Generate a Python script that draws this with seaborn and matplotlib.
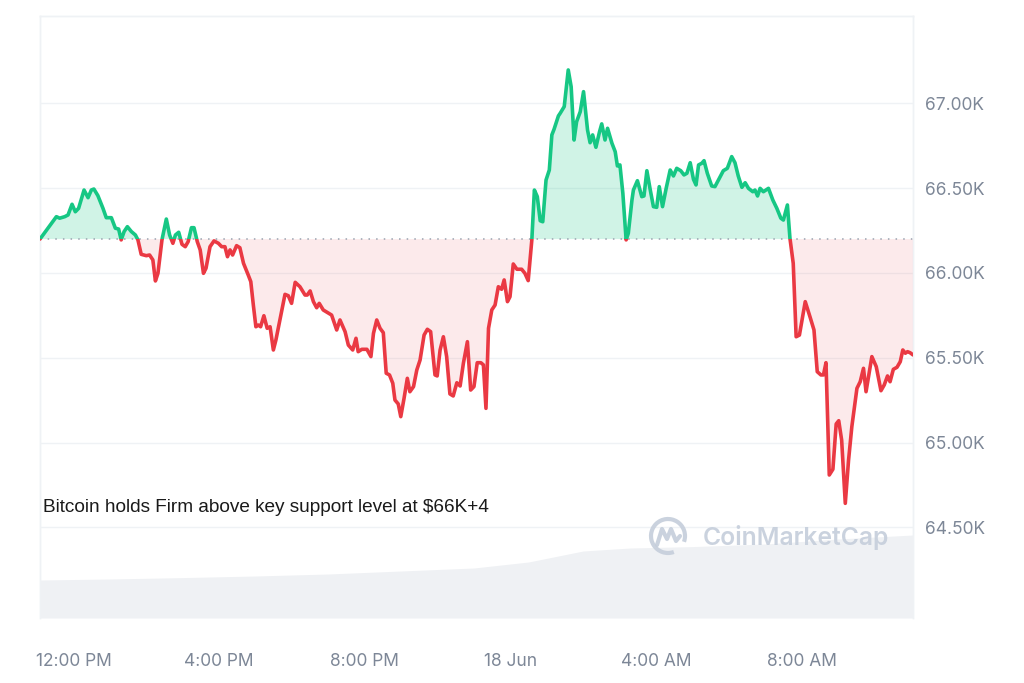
import numpy as np
import pandas as pd
import seaborn as sns
import matplotlib.pyplot as plt
from matplotlib.patches import Rectangle, Arc

# hours since midnight 17 Jun (24 = 18 Jun 00:00), BTC price in thousands USD
hours = [
    11.08, 11.30, 11.53, 11.62, 11.76, 11.85, 11.96, 12.05, 12.14, 12.29,
    12.40, 12.49, 12.56, 12.67, 12.81, 12.90, 13.04, 13.15, 13.24, 13.31,
    13.39, 13.48, 13.59, 13.70, 13.77, 13.86, 14.00, 14.09, 14.18, 14.25,
    14.32, 14.43, 14.55, 14.64, 14.73, 14.80, 14.89, 14.98, 15.07, 15.15,
    15.24, 15.31, 15.40, 15.48, 15.57, 15.64, 15.75, 15.86, 15.98, 16.07,
    16.16, 16.23, 16.30, 16.37, 16.48, 16.57, 16.67, 16.80, 16.87, 16.94,
    17.01, 17.08, 17.14, 17.23, 17.32, 17.40, 17.49, 17.56, 17.67, 17.81,
    17.90, 17.99, 18.09, 18.22, 18.36, 18.42, 18.50, 18.59, 18.68, 18.75,
    18.86, 18.97, 19.09, 19.23, 19.32, 19.46, 19.55, 19.67, 19.76, 19.82,
    19.92, 20.06, 20.17, 20.24, 20.33, 20.42, 20.51, 20.59, 20.68, 20.77,
    20.83, 20.92, 20.99, 21.08, 21.17, 21.24, 21.34, 21.43, 21.52, 21.63,
    21.72, 21.81, 21.93, 21.99, 22.07, 22.16, 22.25, 22.34, 22.43, 22.53,
    22.62, 22.71, 22.82, 22.91, 23.00, 23.09, 23.19, 23.26, 23.33, 23.40,
    23.49, 23.58, 23.67, 23.76, 23.83, 23.92, 23.99, 24.08, 24.18, 24.31,
    24.40, 24.49, 24.59, 24.66, 24.74, 24.82, 24.89, 24.98, 25.07, 25.14,
    25.20, 25.32, 25.37, 25.48, 25.59, 25.67, 25.75, 25.82, 25.92, 26.01,
    26.12, 26.19, 26.26, 26.35, 26.45, 26.51, 26.60, 26.67, 26.79, 26.88,
    26.94, 27.01, 27.09, 27.18, 27.24, 27.34, 27.38, 27.49, 27.61, 27.67,
    27.75, 27.84, 27.93, 28.02, 28.09, 28.18, 28.28, 28.39, 28.48, 28.57,
    28.68, 28.77, 28.85, 28.94, 29.03, 29.10, 29.17, 29.26, 29.32, 29.41,
    29.53, 29.62, 29.74, 29.85, 29.96, 30.08, 30.17, 30.26, 30.36, 30.45,
    30.54, 30.66, 30.72, 30.79, 30.86, 30.95, 31.09, 31.21, 31.32, 31.43,
    31.50, 31.61, 31.68, 31.77, 31.85, 31.94, 32.10, 32.23, 32.34, 32.43,
    32.53, 32.60, 32.67, 32.76, 32.86, 32.95, 33.02, 33.10, 33.20, 33.29,
    33.38, 33.52, 33.61, 33.70, 33.77, 33.93, 34.05, 34.18, 34.27, 34.36,
    34.43, 34.52, 34.62, 34.71, 34.78, 34.85, 34.91, 34.98, 35.06,
]
price_k = [
    66.200, 66.265, 66.332, 66.323, 66.332, 66.342, 66.405, 66.361, 66.381, 66.489,
    66.444, 66.489, 66.495, 66.456, 66.381, 66.326, 66.326, 66.264, 66.259, 66.195,
    66.244, 66.273, 66.244, 66.224, 66.195, 66.110, 66.102, 66.106, 66.077, 65.953,
    65.998, 66.195, 66.318, 66.224, 66.175, 66.224, 66.240, 66.169, 66.155, 66.185,
    66.267, 66.267, 66.185, 66.136, 65.998, 66.028, 66.155, 66.189, 66.175, 66.155,
    66.155, 66.096, 66.136, 66.106, 66.161, 66.149, 66.057, 65.988, 65.949, 65.811,
    65.683, 65.693, 65.683, 65.748, 65.674, 65.683, 65.546, 65.605, 65.723, 65.874,
    65.866, 65.821, 65.945, 65.919, 65.870, 65.870, 65.894, 65.831, 65.795, 65.821,
    65.782, 65.768, 65.752, 65.664, 65.723, 65.654, 65.575, 65.546, 65.615, 65.536,
    65.550, 65.550, 65.507, 65.644, 65.723, 65.674, 65.648, 65.409, 65.399, 65.350,
    65.251, 65.228, 65.153, 65.261, 65.379, 65.300, 65.330, 65.428, 65.487, 65.634,
    65.668, 65.654, 65.399, 65.393, 65.546, 65.624, 65.507, 65.287, 65.275, 65.353,
    65.334, 65.468, 65.595, 65.310, 65.330, 65.471, 65.471, 65.458, 65.202, 65.674,
    65.782, 65.811, 65.919, 65.904, 65.959, 65.831, 65.860, 66.053, 66.022, 66.022,
    65.998, 65.955, 66.195, 66.489, 66.450, 66.308, 66.302, 66.548, 66.607, 66.814,
    66.847, 66.926, 66.942, 66.981, 67.197, 67.098, 66.784, 66.892, 66.951, 67.069,
    66.843, 66.768, 66.814, 66.741, 66.833, 66.879, 66.784, 66.853, 66.765, 66.715,
    66.631, 66.637, 66.470, 66.195, 66.234, 66.430, 66.489, 66.544, 66.450, 66.454,
    66.603, 66.493, 66.391, 66.387, 66.509, 66.391, 66.499, 66.607, 66.572, 66.617,
    66.603, 66.578, 66.588, 66.650, 66.552, 66.519, 66.637, 66.647, 66.662, 66.588,
    66.513, 66.509, 66.558, 66.603, 66.617, 66.686, 66.650, 66.572, 66.505, 66.532,
    66.499, 66.479, 66.489, 66.454, 66.499, 66.479, 66.499, 66.430, 66.381, 66.323,
    66.312, 66.401, 66.205, 66.057, 65.624, 65.634, 65.831, 65.742, 65.664, 65.418,
    65.399, 65.399, 65.471, 64.809, 64.843, 65.110, 65.129, 65.015, 64.642, 64.897,
    65.094, 65.320, 65.359, 65.438, 65.300, 65.507, 65.448, 65.306, 65.340, 65.393,
    65.359, 65.432, 65.444, 65.477, 65.546, 65.527, 65.536, 65.530, 65.517,
]

# 24h volume (relative units) under the price
vol_hours = [11.08, 13.0, 15.0, 17.0, 19.0, 21.0, 23.0, 24.5, 26.0, 27.3, 29.0, 31.0, 33.0, 35.06]
vol_values = [19.0, 19.5, 20.2, 21.0, 22.0, 23.5, 25.0, 28.0, 33.5, 35.0, 35.7, 37.0, 39.5, 41.5]

tick_hours = [12, 16, 20, 24, 28, 32]
tick_labels = ['12:00 PM', '4:00 PM', '8:00 PM', '18 Jun', '4:00 AM', '8:00 AM']
price_ticks = [64.5, 65.0, 65.5, 66.0, 66.5, 67.0]
base_price = price_k[0]

green = '#16c784'
red = '#ea3943'
grid_col = '#eff2f5'
label_col = '#7d8797'

df = pd.DataFrame({'hour': hours, 'price': price_k})
base = np.full(len(df), base_price)

sns.set_theme(style='white')
plt.rcParams['font.family'] = ['Inter', 'DejaVu Sans']

fig = plt.figure(figsize=(10.24, 6.83), dpi=100)
axv = fig.add_axes([40 / 1024, 65 / 683, 873 / 1024, 602 / 683])
axp = axv.twinx()

# volume area
axv.fill_between(vol_hours, vol_values, color='#eff1f4', lw=0)
axv.set_ylim(0, 301)
axv.set_yticks([])
axv.set_xlim(hours[0], hours[-1])
axv.set_xticks(tick_hours)
axv.set_xticklabels(tick_labels)
axv.tick_params(axis='x', length=0, pad=25, labelsize=12.5, labelcolor=label_col)

# price
axp.set_ylim(63.966, 67.515)
axp.set_xlim(hours[0], hours[-1])
axp.set_yticks(price_ticks)
axp.set_yticklabels([f'{v:.2f}K' for v in price_ticks])
axp.tick_params(axis='y', length=0, pad=9, labelsize=12.5, labelcolor=label_col)
for v in price_ticks:
    axp.axhline(v, color=grid_col, lw=1, zorder=0)

axp.fill_between(df['hour'], df['price'], base, where=df['price'] >= base,
                 interpolate=True, color=green, alpha=0.2, lw=0)
axp.fill_between(df['hour'], df['price'], base, where=df['price'] <= base,
                 interpolate=True, color=red, alpha=0.1, lw=0)
axp.axhline(base_price, color='#9aa2af', lw=1.1, ls=(0, (1, 4)), zorder=1)

top_clip = Rectangle((hours[0], base_price), hours[-1] - hours[0], 10, transform=axp.transData)
bot_clip = Rectangle((hours[0], base_price - 10), hours[-1] - hours[0], 10, transform=axp.transData)
sns.lineplot(data=df, x='hour', y='price', ax=axp, color=green, lw=2.6, zorder=3)
axp.lines[-1].set_clip_path(top_clip)
sns.lineplot(data=df, x='hour', y='price', ax=axp, color=red, lw=2.6, zorder=3)
axp.lines[-1].set_clip_path(bot_clip)
axp.set_xlabel('')
axp.set_ylabel('')

for a in (axv, axp):
    a.spines['bottom'].set_visible(False)
    for s in ('top', 'left', 'right'):
        a.spines[s].set_color(grid_col)
        a.spines[s].set_linewidth(1)

# annotation and watermark
fig.text(43 / 1024, 1 - 508 / 683, 'Bitcoin holds Firm above key support level at $66K+4',
         fontsize=13.7, family=['Liberation Sans', 'DejaVu Sans'], color='#1a1a1a', va='center')
fig.text(703 / 1024, 1 - 538 / 683, 'CoinMarketCap', fontsize=17.8, fontweight='semibold',
         color='#c5cedb', va='center', alpha=0.9)
logo = Arc((6.68, 1.47), 0.34, 0.34, theta1=-20, theta2=290, lw=3,
           color='#c5cedb', transform=fig.dpi_scale_trans, alpha=0.9)
fig.add_artist(logo)
fig.add_artist(plt.Line2D([6.57, 6.62, 6.67, 6.71, 6.76, 6.80], [1.38, 1.54, 1.44, 1.54, 1.42, 1.47],
                          lw=3, color='#c5cedb', transform=fig.dpi_scale_trans, alpha=0.9))

fig.savefig('out.png', dpi=100)
